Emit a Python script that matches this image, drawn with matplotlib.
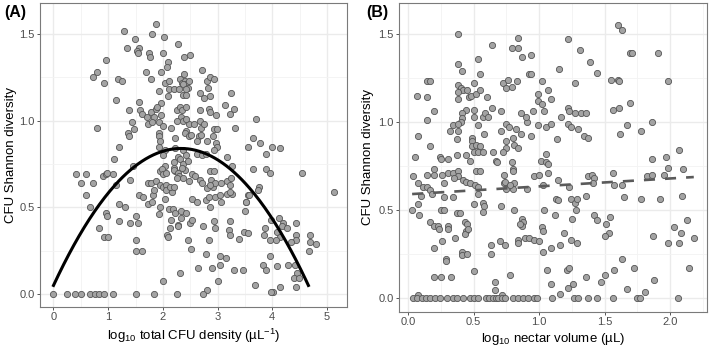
import matplotlib
matplotlib.use("Agg")
import matplotlib.pyplot as plt
import numpy as np
from matplotlib.ticker import MultipleLocator

plt.rcParams['font.family'] = ['Liberation Sans', 'DejaVu Sans']
plt.rcParams['mathtext.fontset'] = 'custom'
plt.rcParams['mathtext.rm'] = 'Liberation Sans'
plt.rcParams['mathtext.it'] = 'Liberation Sans:italic'

# ---- panel A: log10 total CFU density vs Shannon diversity ----
a_zero_x = [0.0, 0.24, 0.39, 0.50, 0.67, 0.75, 0.84, 0.93, 1.09, 1.51, 1.83, 2.25, 2.73]
a_pts = [
    (1.87, 1.555), (1.28, 1.52), (1.80, 1.50), (2.02, 1.48), (1.49, 1.47), (2.27, 1.44),
    (1.34, 1.42), (1.57, 1.42), (1.52, 1.40), (1.55, 1.39), (1.75, 1.39), (1.76, 1.37),
    (2.01, 1.39), (2.39, 1.37), (2.50, 1.38), (2.09, 1.34), (0.96, 1.35), (2.07, 1.31),
    (0.79, 1.28), (0.73, 1.25), (0.92, 1.22), (1.17, 1.24), (1.26, 1.23), (1.69, 1.28),
    (1.78, 1.24), (1.96, 1.28), (2.39, 1.27), (2.72, 1.29), (2.03, 1.22), (2.12, 1.23),
    (2.31, 1.24), (2.34, 1.22), (2.40, 1.23), (2.43, 1.21), (2.48, 1.23), (2.46, 1.19),
    (2.37, 1.21), (2.42, 1.18), (2.12, 1.18), (2.20, 1.18), (2.30, 1.18), (2.37, 1.15),
    (2.43, 1.15), (2.09, 1.14), (1.92, 1.17), (2.81, 1.23), (2.86, 1.25), (2.93, 1.24),
    (2.82, 1.19), (2.67, 1.16), (2.75, 1.13), (2.87, 1.14), (3.24, 1.16), (1.15, 1.12),
    (1.56, 1.11), (1.38, 1.06), (1.59, 1.06), (1.61, 1.04), (1.71, 1.02), (1.78, 1.05),
    (1.83, 1.02), (1.87, 1.07), (1.96, 1.10), (1.90, 1.08), (1.73, 0.98), (1.80, 0.99),
    (1.93, 0.99), (1.97, 1.03), (2.00, 0.97), (2.26, 1.06), (2.31, 1.08), (2.34, 1.06),
    (2.43, 1.08), (2.33, 1.02), (2.25, 1.00), (2.37, 1.00), (2.48, 0.98), (2.43, 1.01),
    (2.67, 1.06), (2.85, 1.07), (2.87, 1.05), (2.97, 1.03), (3.14, 1.09), (3.23, 1.04),
    (3.30, 1.07), (2.67, 1.00), (2.70, 0.96), (2.75, 0.98), (2.56, 0.98), (2.15, 0.96),
    (2.22, 0.90), (2.43, 0.94), (2.40, 0.93), (2.47, 0.91), (2.51, 0.92), (2.66, 0.91),
    (2.70, 0.92), (2.62, 0.88), (2.80, 0.88), (2.93, 0.95), (2.98, 0.95), (2.92, 0.91),
    (2.97, 0.87), (2.99, 0.85), (3.32, 0.96), (3.55, 0.85), (3.70, 1.01), (3.64, 0.90),
    (3.77, 0.87), (3.99, 0.85), (4.14, 0.84), (3.89, 0.81), (1.37, 0.93), (1.38, 0.91),
    (1.44, 0.99), (1.47, 0.95), (0.79, 0.96), (1.92, 0.93), (1.92, 0.91), (1.95, 0.88),
    (1.93, 0.85), (1.20, 0.85), (2.03, 0.83), (2.22, 0.84), (1.11, 0.78), (1.45, 0.74),
    (2.04, 0.74), (2.21, 0.76), (2.20, 0.73), (2.23, 0.71), (1.95, 0.71), (1.99, 0.72),
    (2.01, 0.80), (2.37, 0.83), (2.43, 0.80), (2.62, 0.81), (2.71, 0.80), (2.79, 0.81),
    (2.94, 0.83), (3.18, 0.79), (2.28, 0.79), (2.32, 0.78), (3.26, 0.74), (3.65, 0.72),
    (3.89, 0.72), (3.96, 0.70), (4.55, 0.70),
    (0.42, 0.69), (0.60, 0.69), (0.91, 0.68), (0.96, 0.69), (0.98, 0.70), (1.09, 0.69),
    (1.40, 0.66), (0.50, 0.64), (0.73, 0.64), (0.59, 0.57), (0.67, 0.50), (1.14, 0.63),
    (1.19, 0.52), (1.31, 0.50), (1.20, 0.42), (1.40, 0.41), (1.54, 0.41), (0.96, 0.47),
    (0.98, 0.45), (1.50, 0.45), (0.84, 0.38), (0.92, 0.33), (0.99, 0.33), (1.51, 0.31),
    (1.51, 0.25), (1.62, 0.25), (1.57, 0.57), (1.64, 0.56), (1.73, 0.52), (1.80, 0.53),
    (1.81, 0.57), (1.84, 0.60),
    (1.72, 0.64), (1.79, 0.64), (1.88, 0.65), (1.95, 0.63), (2.01, 0.62), (2.05, 0.63),
    (2.06, 0.60), (2.16, 0.59), (2.13, 0.62), (2.20, 0.62), (2.01, 0.69), (2.05, 0.70),
    (1.95, 0.50), (1.93, 0.46), (2.11, 0.49), (2.19, 0.49), (2.22, 0.47), (2.14, 0.43),
    (2.27, 0.40), (2.13, 0.38), (2.07, 0.34), (2.09, 0.33), (2.00, 0.077), (2.32, 0.12),
    (2.20, 0.715), (2.28, 0.70), (2.30, 0.68), (2.36, 0.75), (2.40, 0.715), (2.34, 0.725),
    (2.46, 0.77), (2.37, 0.67), (2.25, 0.67), (2.47, 0.65), (2.54, 0.69), (2.59, 0.68),
    (2.68, 0.66), (2.71, 0.64), (2.86, 0.71), (2.94, 0.71), (2.88, 0.66), (2.91, 0.62),
    (2.95, 0.64), (3.07, 0.64), (3.17, 0.65), (3.25, 0.67), (3.23, 0.63), (3.18, 0.58),
    (3.27, 0.58), (3.23, 0.59), (2.81, 0.61), (2.86, 0.63), (2.04, 0.55), (2.53, 0.55),
    (2.62, 0.53), (2.79, 0.54), (2.85, 0.56), (2.95, 0.56), (3.04, 0.57), (3.06, 0.53),
    (2.87, 0.50), (3.51, 0.53), (3.55, 0.57), (2.33, 0.48), (2.42, 0.47), (2.33, 0.44),
    (2.28, 0.39), (2.50, 0.41), (2.54, 0.43), (2.74, 0.39), (2.94, 0.42), (2.96, 0.38),
    (3.23, 0.42), (3.21, 0.37), (3.23, 0.34), (3.40, 0.32), (3.48, 0.36), (3.56, 0.35),
    (2.84, 0.31), (2.45, 0.31), (2.52, 0.26), (2.78, 0.23), (3.05, 0.22), (3.15, 0.21),
    (3.05, 0.17), (2.65, 0.15), (2.90, 0.15), (3.30, 0.14), (3.46, 0.14), (3.01, 0.075),
    (5.12, 0.59), (3.76, 0.62), (3.73, 0.60), (3.58, 0.57), (3.52, 0.53), (3.50, 0.48),
    (3.98, 0.43), (3.87, 0.38), (3.85, 0.34), (3.96, 0.31), (4.13, 0.44), (4.20, 0.41),
    (4.17, 0.39), (4.26, 0.38), (4.09, 0.36), (4.14, 0.33), (4.07, 0.31), (4.43, 0.41),
    (4.43, 0.34), (4.43, 0.31), (4.34, 0.30), (4.69, 0.34), (4.69, 0.30), (4.79, 0.29),
    (4.67, 0.25), (3.96, 0.22), (3.83, 0.17), (3.89, 0.14), (4.09, 0.16), (4.28, 0.165),
    (4.42, 0.165), (4.45, 0.12), (4.40, 0.09), (4.49, 0.09), (4.43, 0.04), (4.14, 0.04),
    (4.02, 0.014), (3.98, 0.012), (3.69, 0.05), (2.81, 0.025),
]
# quadratic fit y = c0 + c1*x + c2*x^2, drawn over x in [0, 4.66]
a_fit_coef = [0.05, 0.678, -0.1455]
a_fit_range = [0.0, 4.66]

# ---- panel B: log10 nectar volume vs Shannon diversity ----
b_zero_x = [0.033, 0.064, 0.102, 0.135, 0.166, 0.204, 0.242, 0.293, 0.344, 0.374,
            0.415, 0.471, 0.501, 0.529, 0.593, 0.618, 0.644, 0.669, 0.687, 0.713,
            0.738, 0.802, 0.840, 0.873, 0.916, 0.96, 0.98, 1.10, 1.265, 1.293, 1.374,
            1.445, 1.565, 1.743, 1.768, 2.056]
b_pts = [
    (0.377, 1.50), (0.84, 1.48), (0.79, 1.42), (0.84, 1.42), (0.87, 1.37), (0.64, 1.44),
    (0.377, 1.33), (0.53, 1.36), (0.41, 1.29), (0.55, 1.27), (0.145, 1.23), (0.166, 1.23),
    (0.50, 1.22), (0.377, 1.21), (0.405, 1.19), (0.42, 1.18), (0.38, 1.17), (0.377, 1.13),
    (0.45, 1.18), (0.466, 1.14), (0.48, 1.15), (0.52, 1.16), (0.55, 1.18), (0.72, 1.22),
    (0.76, 1.24), (0.75, 1.19), (0.79, 1.20), (0.83, 1.23), (0.60, 1.14), (0.07, 1.15),
    (0.145, 1.14), (0.20, 1.06), (0.145, 1.01), (0.44, 1.07), (0.50, 1.07), (0.50, 1.03),
    (0.57, 1.03), (0.59, 1.05), (0.61, 1.03), (0.64, 1.08), (0.71, 1.06), (0.41, 1.05),
    (0.41, 1.02), (0.40, 1.00), (0.34, 0.98), (0.38, 0.99), (0.377, 0.95), (0.32, 0.95),
    (0.53, 0.98), (0.75, 0.99), (0.77, 0.97), (0.82, 0.96), (0.86, 0.93), (0.91, 1.00),
    (0.90, 1.03), (0.86, 1.05), (0.71, 0.95), (0.58, 0.93), (0.075, 0.92), (0.17, 0.86),
    (0.375, 0.90), (0.49, 0.91), (0.49, 0.89), (0.49, 0.86), (0.52, 0.87), (0.55, 0.86),
    (0.50, 0.83), (0.53, 0.83), (0.57, 0.83), (0.44, 0.81), (0.47, 0.78), (0.375, 0.81),
    (0.75, 0.89), (0.80, 0.91), (0.81, 0.87), (0.84, 0.85), (0.75, 0.85), (0.65, 0.83),
    (0.67, 0.78), (0.68, 0.77), (0.72, 0.83), (0.79, 0.77), (0.80, 0.73), (0.05, 0.80),
    (0.24, 0.80), (0.25, 0.79), (0.30, 0.79), (0.20, 0.73), (0.04, 0.69), (0.145, 0.70),
    (0.20, 0.70), (0.255, 0.70), (0.30, 0.71), (0.34, 0.71), (0.38, 0.72), (0.38, 0.69),
    (0.52, 0.72), (0.55, 0.72), (0.73, 0.70), (0.80, 0.72),
    (1.60, 1.55), (1.63, 1.52), (1.22, 1.47), (1.31, 1.41), (0.94, 1.38), (1.69, 1.39),
    (1.71, 1.39), (1.91, 1.39), (1.39, 1.34), (1.15, 1.30), (1.44, 1.28), (0.92, 1.27),
    (0.94, 1.27), (1.02, 1.23), (1.27, 1.22), (1.545, 1.24), (1.60, 1.24), (1.61, 1.235),
    (1.98, 1.23), (1.07, 1.18), (0.99, 1.16), (1.09, 1.13), (0.99, 1.12), (1.02, 1.10),
    (1.04, 1.06), (0.95, 1.06), (1.22, 1.08), (1.23, 1.06), (1.27, 1.05), (1.32, 1.05),
    (1.36, 1.05), (1.17, 1.03), (1.56, 1.07), (1.61, 1.08), (1.69, 1.11), (0.99, 0.98),
    (1.05, 0.97), (1.09, 0.99), (1.22, 0.99), (1.24, 0.97), (1.30, 0.96), (1.34, 0.92),
    (1.37, 0.91), (1.136, 0.90), (0.94, 0.92), (1.67, 0.98), (1.78, 0.95), (1.86, 1.00),
    (1.62, 0.93), (1.05, 0.82), (1.01, 0.78), (1.05, 0.77), (1.07, 0.76), (1.07, 0.71),
    (1.86, 0.79), (1.97, 0.80), (2.07, 0.84), (1.98, 0.74), (2.10, 0.73), (1.56, 0.71),
    (1.95, 0.70), (0.96, 0.69), (1.00, 0.70), (1.37, 0.69), (1.40, 0.70), (1.42, 0.68),
    (1.82, 0.69), (1.86, 0.70),
    (0.35, 0.68), (0.42, 0.67), (0.44, 0.66), (0.47, 0.65), (0.51, 0.64), (0.077, 0.65),
    (0.11, 0.63), (0.10, 0.58), (0.14, 0.63), (0.17, 0.61), (0.18, 0.59), (0.27, 0.65),
    (0.27, 0.57), (0.34, 0.57), (0.53, 0.63), (0.53, 0.59), (0.50, 0.53), (0.57, 0.54),
    (0.58, 0.52), (0.57, 0.49), (0.03, 0.50), (0.077, 0.53), (0.08, 0.47), (0.25, 0.50),
    (0.27, 0.50), (0.17, 0.43), (0.20, 0.41), (0.23, 0.41), (0.235, 0.39), (0.30, 0.41),
    (0.30, 0.39), (0.375, 0.48), (0.395, 0.48), (0.43, 0.43), (0.45, 0.42), (0.44, 0.38),
    (0.43, 0.36), (0.46, 0.39), (0.36, 0.34), (0.26, 0.32), (0.20, 0.28), (0.29, 0.22),
    (0.29, 0.21), (0.41, 0.26), (0.41, 0.24), (0.45, 0.25), (0.50, 0.15), (0.20, 0.12),
    (0.25, 0.12), (0.33, 0.12), (0.66, 0.09), (0.66, 0.045), (0.63, 0.30), (0.63, 0.25),
    (0.70, 0.32), (0.74, 0.30), (0.71, 0.52), (0.73, 0.65), (0.74, 0.66), (0.75, 0.62),
    (0.80, 0.62), (0.81, 0.65), (0.78, 0.64), (0.81, 0.50), (0.78, 0.13), (0.84, 0.33),
    (0.84, 0.31), (0.87, 0.45), (0.88, 0.43), (0.87, 0.41), (0.85, 0.42), (0.89, 0.34),
    (0.077, 0.015), (0.713, 0.015),
    (1.14, 0.67), (0.91, 0.62), (1.03, 0.64), (1.23, 0.63), (1.41, 0.65), (1.57, 0.64),
    (1.63, 0.64), (1.36, 0.58), (1.65, 0.57), (1.78, 0.56), (1.92, 0.56), (2.09, 0.58),
    (1.13, 0.56), (1.145, 0.555), (1.24, 0.56), (1.27, 0.54), (1.29, 0.56), (1.28, 0.50),
    (1.04, 0.50), (1.12, 0.47), (1.25, 0.45), (1.42, 0.47), (1.44, 0.44), (1.54, 0.46),
    (1.51, 0.42), (1.02, 0.40), (1.03, 0.38), (1.19, 0.37), (0.92, 0.34), (0.96, 0.33),
    (1.00, 0.32), (1.24, 0.33), (1.29, 0.31), (1.09, 0.28), (1.03, 0.26), (1.16, 0.30),
    (1.53, 0.37), (1.50, 0.35), (1.87, 0.35), (1.98, 0.31), (2.07, 0.31), (2.03, 0.40),
    (2.08, 0.37), (2.18, 0.34), (2.13, 0.44), (1.63, 0.22), (1.72, 0.17), (1.57, 0.16),
    (1.50, 0.13), (1.36, 0.12), (1.47, 0.09), (1.06, 0.16), (1.21, 0.16), (1.23, 0.17),
    (1.09, 0.075), (1.26, 0.075), (1.22, 0.053), (1.16, 0.02), (1.88, 0.10), (1.67, 0.05),
    (1.81, 0.03), (2.14, 0.17),
]
# linear fit y = b0 + b1*x (dashed)
b_fit_coef = [0.588, 0.045]

fill_col = '#a3a3a3'
edge_col = '#555555'
tick_col = '#4d4d4d'


def style_axes(ax, xmaj, xlim, ylim):
    ax.set_xlim(*xlim)
    ax.set_ylim(*ylim)
    ax.xaxis.set_major_locator(MultipleLocator(xmaj))
    ax.xaxis.set_minor_locator(MultipleLocator(xmaj / 2))
    ax.yaxis.set_major_locator(MultipleLocator(0.5))
    ax.yaxis.set_minor_locator(MultipleLocator(0.25))
    ax.grid(which='major', color='#ebebeb', lw=1.0)
    ax.grid(which='minor', color='#f3f3f3', lw=0.6)
    ax.set_axisbelow(True)
    for s in ax.spines.values():
        s.set_color('#7a7a7a')
        s.set_linewidth(0.8)
    ax.tick_params(which='major', length=2.5, width=0.7, color='#555555',
                   labelsize=8, labelcolor=tick_col, pad=1.5)
    ax.tick_params(which='minor', length=0)


fig = plt.figure(figsize=(7.09, 3.47), dpi=100)
axA = fig.add_axes([0.0564, 0.116, 0.4326, 0.875])
axB = fig.add_axes([0.563, 0.1017, 0.434, 0.889])

# panel A
ax_x = [p[0] for p in a_pts] + a_zero_x
ax_y = [p[1] for p in a_pts] + [0.0] * len(a_zero_x)
axA.scatter(ax_x, ax_y, s=20, c=fill_col, edgecolors=edge_col, linewidths=0.6, zorder=2)
xs = np.linspace(a_fit_range[0], a_fit_range[1], 200)
axA.plot(xs, a_fit_coef[0] + a_fit_coef[1] * xs + a_fit_coef[2] * xs ** 2,
         color='black', lw=2.2, zorder=3)
style_axes(axA, 1, (-0.247, 5.36), (-0.073, 1.678))
axA.set_xlabel('log$_{10}$ total CFU density (µL$^{-1}$)', fontsize=9.5, labelpad=3)
axA.set_ylabel('CFU Shannon diversity', fontsize=9.5)
axA.yaxis.set_label_coords(-0.076, 0.5)

# panel B
bx = [p[0] for p in b_pts] + b_zero_x
by = [p[1] for p in b_pts] + [0.0] * len(b_zero_x)
axB.scatter(bx, by, s=20, c=fill_col, edgecolors=edge_col, linewidths=0.6, zorder=2)
xb = np.linspace(min(bx), max(bx), 100)
axB.plot(xb, b_fit_coef[0] + b_fit_coef[1] * xb, color='#5a5a5a', lw=1.9,
         dashes=(4.2, 3.8), zorder=3)
style_axes(axB, 0.5, (-0.069, 2.28), (-0.08, 1.675))
axB.set_xlabel('log$_{10}$ nectar volume (µL)', fontsize=9.5, labelpad=3)
axB.set_ylabel('CFU Shannon diversity', fontsize=9.5)
axB.yaxis.set_label_coords(-0.083, 0.5)

fig.text(0.006, 0.965, '(A)', fontsize=11.5, fontweight='bold', va='center')
fig.text(0.517, 0.965, '(B)', fontsize=11.5, fontweight='bold', va='center')

fig.savefig('out.png', dpi=100)
